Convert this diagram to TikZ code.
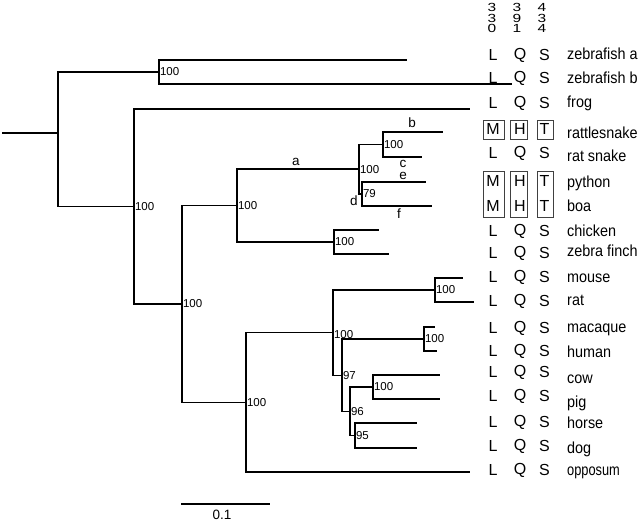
\documentclass[tikz,border=0pt]{standalone}
\usepackage{fontspec}
\setmainfont{Liberation Sans}
\usepackage{graphicx}
\begin{document}
\begin{tikzpicture}[x=1pt,y=-1pt,
  br/.style={line width=1.3pt},
  sup/.style={font=\fontsize{11.5}{11.5}\selectfont, anchor=west, inner sep=0.8pt},
  bl/.style={font=\fontsize{13.5}{13.5}\selectfont, inner sep=0pt},
  res/.style={font=\fontsize{16}{16}\selectfont, inner sep=0pt},
  dig/.style={font=\fontsize{15.5}{15.5}\selectfont, inner sep=0pt},
  spn/.style={font=\fontsize{16}{16}\selectfont, inner sep=0pt, anchor=base west},
  bx/.style={draw=black!75, line width=0.8pt}]
\useasboundingbox (0,0) rectangle (640,521);
% tree coordinates
\coordinate (root) at (2,133);
\coordinate (nR) at (58,133);
\coordinate (nZ) at (159,72);
\coordinate (tZa) at (407,60);
\coordinate (tZb) at (512,84);
\coordinate (nT) at (134,206.5);
\coordinate (tFrog) at (470,109);
\coordinate (nA) at (182,304);
\coordinate (nS) at (237,205.5);
\coordinate (nSn) at (359,169);
\coordinate (nC) at (383,144.5);
\coordinate (tRattle) at (443,132);
\coordinate (tRatsn) at (422,157);
\coordinate (nD) at (362,194);
\coordinate (tPy) at (426,182);
\coordinate (tBoa) at (432,206);
\coordinate (nB) at (334,242);
\coordinate (tChi) at (379,230);
\coordinate (tFin) at (389,254);
\coordinate (nM) at (246,402.5);
\coordinate (nE) at (333,332.5);
\coordinate (nRod) at (435,290);
\coordinate (tMou) at (463,278);
\coordinate (tRat) at (474,302);
\coordinate (n97) at (342,375.5);
\coordinate (nPri) at (424,339);
\coordinate (tMac) at (435,327);
\coordinate (tHum) at (437,351);
\coordinate (n96) at (350,411.5);
\coordinate (nCP) at (373,387);
\coordinate (tCow) at (440,375);
\coordinate (tPig) at (440,399);
\coordinate (n95) at (355,435.5);
\coordinate (tHor) at (417,423);
\coordinate (tDog) at (417,448);
\coordinate (tOpo) at (470,472);
% branches
\draw[br] (root) -- (nR);
\draw[br] (nR) |- (nZ);
\draw[br] (nR) |- (nT);
\draw[br] (nZ) |- (tZa);
\draw[br] (nZ) |- (tZb);
\draw[br] (nT) |- (tFrog);
\draw[br] (nT) |- (nA);
\draw[br] (nA) |- (nS);
\draw[br] (nA) |- (nM);
\draw[br] (nS) |- (nSn);
\draw[br] (nS) |- (nB);
\draw[br] (nSn) |- (nC);
\draw[br] (nSn) |- (nD);
\draw[br] (nC) |- (tRattle);
\draw[br] (nC) |- (tRatsn);
\draw[br] (nD) |- (tPy);
\draw[br] (nD) |- (tBoa);
\draw[br] (nB) |- (tChi);
\draw[br] (nB) |- (tFin);
\draw[br] (nM) |- (nE);
\draw[br] (nM) |- (tOpo);
\draw[br] (nE) |- (nRod);
\draw[br] (nE) |- (n97);
\draw[br] (nRod) |- (tMou);
\draw[br] (nRod) |- (tRat);
\draw[br] (n97) |- (nPri);
\draw[br] (n97) |- (n96);
\draw[br] (nPri) |- (tMac);
\draw[br] (nPri) |- (tHum);
\draw[br] (n96) |- (nCP);
\draw[br] (n96) |- (n95);
\draw[br] (nCP) |- (tCow);
\draw[br] (nCP) |- (tPig);
\draw[br] (n95) |- (tHor);
\draw[br] (n95) |- (tDog);
% support values
\node[sup] (sZ) at (nZ) {100};
\node[sup] (sT) at (nT) {100};
\node[sup] (sA) at (nA) {100};
\node[sup] (sS) at (nS) {100};
\node[sup] (sSn) at ([yshift=-1]nSn) {100};
\node[sup] (sC) at (nC) {100};
\node[sup] (sD) at (nD) {79};
\node[sup] (sB) at (nB) {100};
\node[sup] (sM) at (nM) {100};
\node[sup] (sE) at ([yshift=-2]nE) {100};
\node[sup] (sRod) at (nRod) {100};
\node[sup] (s97) at (n97) {97};
\node[sup] (sPri) at (nPri) {100};
\node[sup] (s96) at (n96) {96};
\node[sup] (sCP) at (nCP) {100};
\node[sup] (s95) at (n95) {95};
% branch letters
\node[bl] (la) at (296,162) {a};
\node[bl] (lb) at (412,123) {b};
\node[bl] (lc) at (403,164) {c};
\node[bl] (le) at (403,176) {e};
\node[bl] (ld) at (354,201) {d};
\node[bl] (lf) at (399,214) {f};
% scale bar
\coordinate (sb1) at (181,504);
\coordinate (sb2) at (270,504);
\draw[br] (sb1) -- (sb2);
\node[bl] (sbl) at (222,515) {0.1};
% header digits
\foreach \xx/\d/\e/\f [count=\i] in {492/3/3/0, 517/3/9/1, 542/4/3/4}{
  \node[dig, yscale=0.76, transform shape] (hd\i a) at (\xx,7.5) {\d};
  \node[dig, yscale=0.76, transform shape] (hd\i b) at (\xx,18.2) {\e};
  \node[dig, yscale=0.76, transform shape] (hd\i c) at (\xx,28.9) {\f};
}
% boxes
\node[bx, minimum width=21pt, minimum height=19pt, inner sep=0pt] (bM1) at (493.5,130) {};
\node[bx, minimum width=17pt, minimum height=19pt, inner sep=0pt] (bH1) at (518.5,130) {};
\node[bx, minimum width=16pt, minimum height=19pt, inner sep=0pt] (bT1) at (545,130) {};
\node[bx, minimum width=21pt, minimum height=46pt, inner sep=0pt] (bM2) at (493.5,194) {};
\node[bx, minimum width=17pt, minimum height=46pt, inner sep=0pt] (bH2) at (518.5,194) {};
\node[bx, minimum width=16pt, minimum height=46pt, inner sep=0pt] (bT2) at (545,194.5) {};
% residues and species
\foreach \yy/\a/\b/\c/\nb/\nm/\sc [count=\i] in {
  55/L/Q/S/60/zebrafish a/0.9,
  78/L/Q/S/84/zebrafish b/0.9,
  103/L/Q/S/108/frog/0.9,
  129/M/H/T/139/rattlesnake/0.9,
  153/L/Q/S/162/rat snake/0.9,
  181/M/H/T/188/python/0.9,
  206/M/H/T/212/boa/0.9,
  231/L/Q/S/237/chicken/0.9,
  253/L/Q/S/257/zebra finch/0.9,
  277/L/Q/S/283/mouse/0.9,
  301/L/Q/S/306/rat/0.9,
  328/L/Q/S/333/macaque/0.9,
  351/L/Q/S/357/human/0.9,
  372/L/Q/S/383/cow/0.9,
  396/L/Q/S/407/pig/0.9,
  422/L/Q/S/428/horse/0.9,
  446/L/Q/S/453/dog/0.9,
  470/L/Q/S/475/opposum/0.8}{
  \node[res] (ra\i) at (493,\yy) {\a};
  \node[res] (rb\i) at (520,\yy) {\b};
  \node[res] (rc\i) at (544.5,\yy) {\c};
  \node[spn] (sp\i) at (567,\nb) {\scalebox{\sc}[1]{\nm}};
}
\end{tikzpicture}
\end{document}
